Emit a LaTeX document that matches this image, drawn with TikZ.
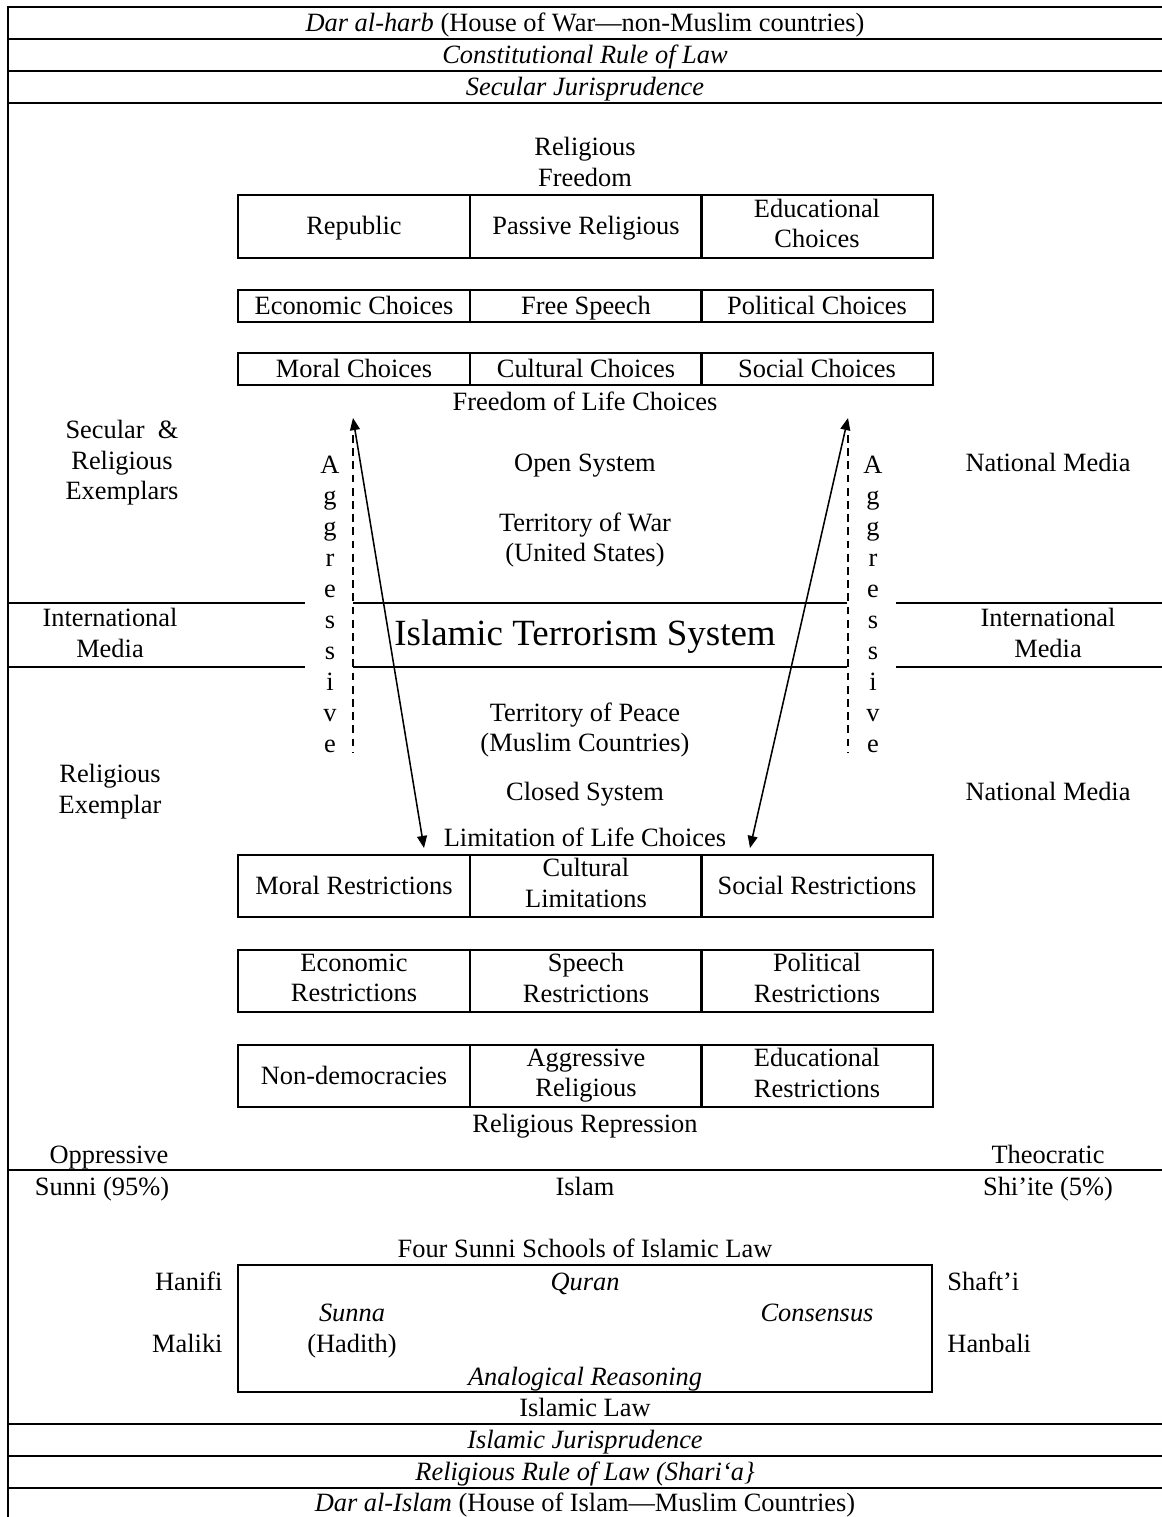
\documentclass[tikz,border=0pt]{standalone}
\usepackage{fontspec}
\setmainfont{Liberation Serif}
\usetikzlibrary{arrows.meta, positioning}
\newcommand{\tstrut}{\rule[-2.8pt]{0pt}{13.3pt}}

\begin{document}
\begin{tikzpicture}[
  x=0.4545pt, y=-0.4545pt,
  font=\fontsize{12}{13.8}\selectfont,
  frame/.style={line width=0.9pt},
  strutted/.style={execute at begin node=\tstrut, execute at end node=\tstrut},
  cell/.style={draw, strutted, line width=0.9pt, inner sep=0pt, outer sep=0pt,
               minimum width=105.45pt, align=center},
  tall/.style={minimum height=28.5pt},
  flat/.style={minimum height=14.5pt},
  lbl/.style={strutted, align=center, inner sep=0pt},
  band/.style={lbl, font=\fontsize{12}{13.8}\selectfont\itshape},
  vert/.style={lbl, font=\fontsize{12}{14.1}\selectfont},
  arrow/.style={{Triangle[length=5.5pt,width=4.5pt]}-{Triangle[length=5.5pt,width=4.5pt]},
                line width=0.7pt},
  guide/.style={dash pattern=on 3.5pt off 2.5pt, line width=0.6pt},
]
  \useasboundingbox (0,0) rectangle (1162,1517);

  % frame
  \draw[frame] (1162,7) -- (8,7) -- (8,1517);
  \foreach \y in {39,71,103,1170,1424,1456,1488}
    \draw[frame] (8,\y) -- (1162,\y);
  \foreach \y in {603,667} {
    \draw[frame] (8,\y) -- (305,\y);
    \draw[frame] (353,\y) -- (847,\y);
    \draw[frame] (896,\y) -- (1162,\y);
  }

  % top bands
  \node[lbl]  (harb)   at (585,23) {\textit{Dar al-harb} (House of War—non-Muslim countries)};
  \node[band] (conrule) at (585,55) {Constitutional Rule of Law};
  \node[band] (secjur) at (585,87) {Secular Jurisprudence};

  % open system
  \node[lbl] (relfree) at (585,165) {Religious\\Freedom};
  \node[cell, tall] (repub)  at (354,226.5) {Republic};
  \node[cell, tall] (passrel) at (586,226.5) {Passive Religious};
  \node[cell, tall] (educch) at (817,226.5) {Educational\\Choices};
  \node[cell, flat] (econch) at (354,306) {Economic Choices};
  \node[cell, flat] (speech) at (586,306) {Free Speech};
  \node[cell, flat] (polch)  at (817,306) {Political Choices};
  \node[cell, flat] (moralch) at (354,369) {Moral Choices};
  \node[cell, flat] (cultch) at (586,369) {Cultural Choices};
  \node[cell, flat] (socch)  at (817,369) {Social Choices};
  \node[lbl] (freelife) at (585,402) {Freedom of Life Choices};

  \node[lbl] (secex)  at (122,463) {Secular\ \ \&\\Religious\\Exemplars};
  \node[lbl] (open)   at (585,463) {Open System};
  \node[lbl] (natmedU) at (1048,463) {National Media};
  \node[lbl] (terwar) at (585,540) {Territory of War\\(United States)};

  \node[lbl] (intmedL) at (110,636) {International\\Media};
  \node[lbl, font=\fontsize{16.8}{20}\selectfont] (its) at (585,637) {Islamic Terrorism System};
  \node[lbl] (intmedR) at (1048,636) {International\\Media};

  \node[vert] (aggL) at (330,607) {A\\g\\g\\r\\e\\s\\s\\i\\v\\e};
  \node[vert] (aggR) at (873,607) {A\\g\\g\\r\\e\\s\\s\\i\\v\\e};

  % closed system
  \node[lbl] (terpeace) at (585,730) {Territory of Peace\\(Muslim Countries)};
  \node[lbl] (relex)   at (110,792) {Religious\\Exemplar};
  \node[lbl] (closed)  at (585,792) {Closed System};
  \node[lbl] (natmedL) at (1048,792) {National Media};
  \node[lbl] (limlife) at (585,838) {Limitation of Life Choices};

  \node[cell, tall] (moralres) at (354,886) {Moral Restrictions};
  \node[cell, tall] (cultlim)  at (586,886) {Cultural\\Limitations};
  \node[cell, tall] (socres)   at (817,886) {Social Restrictions};
  \node[cell, tall] (econres)  at (354,981) {Economic\\Restrictions};
  \node[cell, tall] (speechres) at (586,981) {Speech\\Restrictions};
  \node[cell, tall] (polres)   at (817,981) {Political\\Restrictions};
  \node[cell, tall] (nondem)   at (354,1076) {Non-democracies};
  \node[cell, tall] (aggrel)   at (586,1076) {Aggressive\\Religious};
  \node[cell, tall] (educres)  at (817,1076) {Educational\\Restrictions};
  \node[lbl] (relrep) at (585,1124) {Religious Repression};

  \node[lbl] (oppr)  at (109,1155) {Oppressive};
  \node[lbl] (theoc) at (1048,1155) {Theocratic};
  \node[lbl] (sunni) at (102,1187) {Sunni (95\%)};
  \node[lbl] (islam) at (585,1187) {Islam};
  \node[lbl] (shiite) at (1048,1187) {Shi’ite (5\%)};

  % schools of law
  \node[lbl] (schools) at (585,1249) {Four Sunni Schools of Islamic Law};
  \node[draw, line width=0.9pt, minimum width=315.4pt, minimum height=57.7pt]
    (lawbox) at (585,1328.5) {};
  \node[lbl, anchor=east] (hanifi) at (223,1282) {Hanifi};
  \node[lbl, anchor=east] (maliki) at (223,1344) {Maliki};
  \node[lbl, anchor=west] (shafti) at (947,1282) {Shaft’i};
  \node[lbl, anchor=west] (hanbali) at (947,1344) {Hanbali};
  \node[band] (quran)  at (585,1282) {Quran};
  \node[band] (sunna)  at (352,1313) {Sunna};
  \node[lbl]  (hadith) at (352,1344) {(Hadith)};
  \node[band] (consen) at (817,1313) {Consensus};
  \node[band] (analog) at (585,1377) {Analogical Reasoning};
  \node[lbl]  (islaw)  at (585,1408) {Islamic Law};

  % bottom bands
  \node[band] (isljur) at (585,1440) {Islamic Jurisprudence};
  \node[band] (relrule) at (585,1472) {Religious Rule of Law (Shari‘a\}};
  \node[lbl]  (daris) at (585,1503) {\textit{Dar al-Islam} (House of Islam—Muslim Countries)};

  % arrows and guides
  \coordinate (gLt) at (353,435);  \coordinate (gLb) at (353,752);
  \coordinate (gRt) at (848,435);  \coordinate (gRb) at (848,752);
  \coordinate (aLt) at (353,418);  \coordinate (aLb) at (424,848);
  \coordinate (aRt) at (848,418);  \coordinate (aRb) at (750,848);
  \draw[guide] (gLt) -- (gLb);
  \draw[guide] (gRt) -- (gRb);
  \draw[arrow] (aLt) -- (aLb);
  \draw[arrow] (aRt) -- (aRb);
\end{tikzpicture}
\end{document}
